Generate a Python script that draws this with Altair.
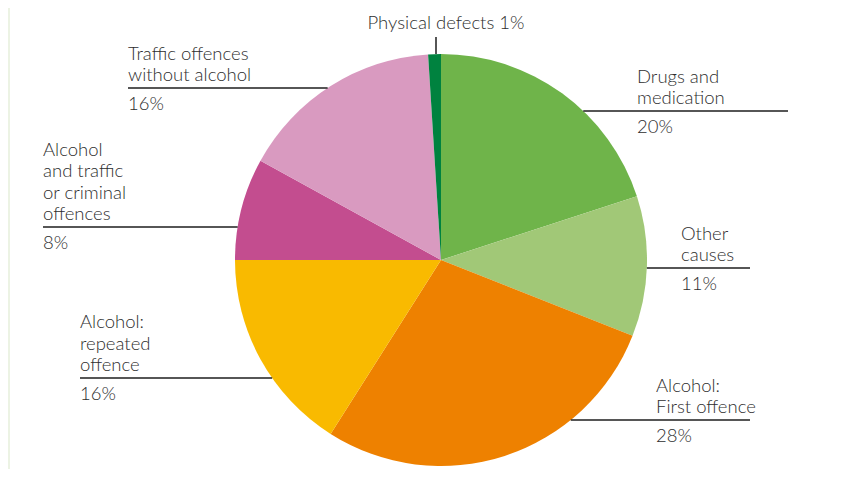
import math
import altair as alt
import pandas as pd

# ---- data ----
categories = [
    "Drugs and medication",
    "Other causes",
    "Alcohol: First offence",
    "Alcohol: repeated offence",
    "Alcohol and traffic or criminal offences",
    "Traffic offences without alcohol",
    "Physical defects",
]
shares = [20, 11, 28, 16, 8, 16, 1]
label_lines = [
    "Drugs and\nmedication",
    "Other\ncauses",
    "Alcohol:\nFirst offence",
    "Alcohol:\nrepeated\noffence",
    "Alcohol\nand traffic\nor criminal\noffences",
    "Traffic offences\nwithout alcohol",
    "Physical defects",
]
colors = ["#6fb44a", "#a1c877", "#ee8100", "#f9ba00", "#c34d8f", "#d99ac0", "#00823f"]

# ---- layout (pixels) ----
W, H = 841, 461
CX, CY, R = 433, 252, 206
FS, LH = 18.5, 21.5
# text x, rule y, outer end of rule, side
label_layout = {
    "Drugs and medication": (629, 103, 780, "right"),
    "Other causes": (673, 260, 742, "right"),
    "Alcohol: First offence": (648, 412, 742, "right"),
    "Alcohol: repeated offence": (72, 370, 72, "left"),
    "Alcohol and traffic or criminal offences": (35, 219, 35, "left"),
    "Traffic offences without alcohol": (120, 80, 120, "left"),
}

pie_df = pd.DataFrame({"category": categories, "share": shares, "order": list(range(len(categories)))})

rules, texts, pcts = [], [], []
for cat, share, lines in zip(categories, shares, label_lines):
    if cat not in label_layout:
        continue
    tx, ly, outer, side = label_layout[cat]
    edge = CX + (1 if side == "right" else -1) * math.sqrt(R * R - (ly - CY) ** 2)
    rules.append({"x": edge, "x2": outer, "y": ly, "y2": ly})
    n = len(lines.split("\n"))
    texts.append({"x": tx, "y": ly - 7 - (n - 1) * LH, "t": lines})
    pcts.append({"x": tx, "y": ly + 22, "t": f"{share}%"})

# physical defects: vertical leader + single line label
pd_x = 428
pd_edge = CY - math.sqrt(R * R - (pd_x - CX) ** 2)
rules.append({"x": pd_x, "x2": pd_x, "y": 29, "y2": pd_edge})
phys = pd.DataFrame([{"x": 438, "y": 21, "t": f"{label_lines[6]} {shares[6]}%"}])

rules_df = pd.DataFrame(rules)
texts_df = pd.DataFrame(texts)
pcts_df = pd.DataFrame(pcts)

strip = alt.Chart(pd.DataFrame({"a": [0]})).mark_rect(color="#ecf3e4").encode(
    x=alt.value(0), x2=alt.value(2), y=alt.value(0), y2=alt.value(H)
)

pie = alt.Chart(pie_df).mark_arc(outerRadius=R, stroke=None).encode(
    theta=alt.Theta("share:Q", stack=True),
    order=alt.Order("order:Q"),
    color=alt.Color("category:N", scale=alt.Scale(domain=categories, range=colors), legend=None),
    x=alt.value(CX),
    y=alt.value(CY),
)

rule_layer = alt.Chart(rules_df).mark_rule(color="#1e1e1e", strokeWidth=1.5).encode(
    x=alt.X("x:Q", scale=None),
    x2="x2:Q",
    y=alt.Y("y:Q", scale=None),
    y2="y2:Q",
)

text_style = dict(font="Lato", fontSize=FS, fontWeight=300, color="#2e2e2e", baseline="alphabetic")

label_layer = alt.Chart(texts_df).mark_text(align="left", lineBreak="\n", lineHeight=LH, **text_style).encode(
    x=alt.X("x:Q", scale=None), y=alt.Y("y:Q", scale=None), text="t:N"
)
pct_layer = alt.Chart(pcts_df).mark_text(align="left", **text_style).encode(
    x=alt.X("x:Q", scale=None), y=alt.Y("y:Q", scale=None), text="t:N"
)
phys_layer = alt.Chart(phys).mark_text(align="center", **text_style).encode(
    x=alt.X("x:Q", scale=None), y=alt.Y("y:Q", scale=None), text="t:N"
)

chart = (
    alt.layer(strip, pie, rule_layer, label_layer, pct_layer, phys_layer)
    .properties(width=W, height=H, padding=0, autosize=alt.AutoSizeParams(type="none"), background="white")
    .configure_view(stroke=None)
)

chart.save("out.html", embed_options={"renderer": "svg", "actions": False})
